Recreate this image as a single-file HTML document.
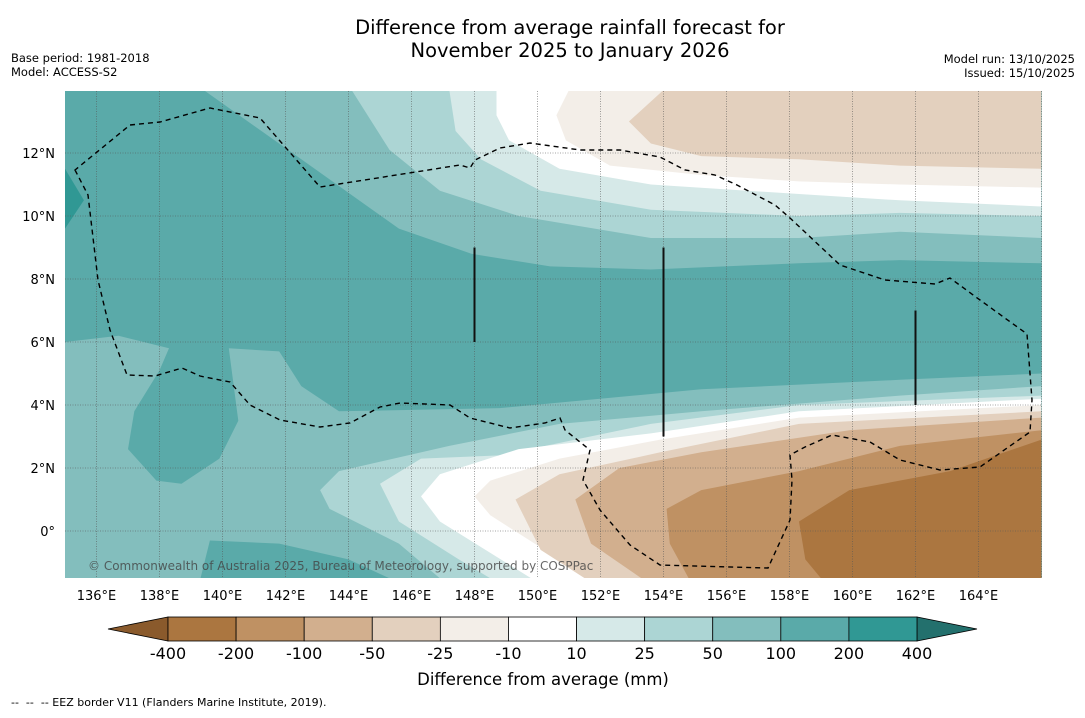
<!DOCTYPE html>
<html><head><meta charset="utf-8"><style>
body{margin:0;background:#fff;font-family:"Liberation Sans","DejaVu Sans",sans-serif;}
svg text{font-family:"DejaVu Sans","Liberation Sans",sans-serif;}
</style></head><body>
<svg id="chart" width="1085" height="713" viewBox="0 0 1085 713" xmlns="http://www.w3.org/2000/svg">
<rect width="1085" height="713" fill="#fff"/>
<text x="570" y="34" font-size="19.5" text-anchor="middle">Difference from average rainfall forecast for</text>
<text x="570" y="57" font-size="19.5" text-anchor="middle">November 2025 to January 2026</text>
<text x="11" y="62" font-size="11.5">Base period: 1981-2018</text>
<text x="11" y="76" font-size="11.5">Model: ACCESS-S2</text>
<text x="1075" y="63" font-size="11.5" text-anchor="end">Model run: 13/10/2025</text>
<text x="1075" y="77" font-size="11.5" text-anchor="end">Issued: 15/10/2025</text>
<defs><clipPath id="mapclip"><rect x="65" y="91" width="977" height="487"/></clipPath></defs>
<g id="map" clip-path="url(#mapclip)"></g>
<g id="axes"></g>
<g id="cbar"></g>
<text x="543" y="685" font-size="16.5" text-anchor="middle">Difference from average (mm)</text>
<text x="11" y="706" font-size="11" style="white-space:pre" xml:space="preserve">--  --  -- EEZ border V11 (Flanders Marine Institute, 2019).</text>
</svg>
<script>
const lonTicks=[136,138,140,142,144,146,148,150,152,154,156,158,160,162,164];
const latTicks=[0,2,4,6,8,10,12];
const cbarLabels=["-400","-200","-100","-50","-25","-10","10","25","50","100","200","400"];
const cbarColors=["#ab7640","#bf9163","#d2af8e","#e3d0be","#f3eee8","#ffffff","#d6e9e8","#acd5d4","#83bebd","#5aaaa9","#309894"];
const C={m400:"#ab7640",m200:"#bf9163",m100:"#d2af8e",m50:"#e3d0be",m25:"#f3eee8",w:"#ffffff",p10:"#d6e9e8",p25:"#acd5d4",p50:"#83bebd",p100:"#5aaaa9",p200:"#309894"};
const band100=[[135,14],[139.4,14],[142.5,11.8],[145.6,9.6],[147.9,8.8],[150.4,8.4],[153.6,8.3],[158.3,8.5],[161.5,8.6],[166,8.5],[166,5.0],[161.5,4.8],[155.2,4.5],[148.8,3.9],[143.7,3.8],[142.5,4.6],[141.8,5.7],[140.2,5.8],[140.5,3.5],[139.9,2.3],[138.7,1.5],[137.9,1.6],[137.0,2.6],[137.2,3.8],[138.0,5.1],[138.3,5.8],[136.7,6.2],[135,6.0]];
const blob100=[[139.3,-1.5],[139.6,-0.3],[141.8,-0.4],[144.0,-0.9],[145.3,-1.5]];
const blob200=[[135,11.5],[135.6,10.5],[135,9.6]];
const top25=[[144.1,14],[145.3,12.1],[146.9,10.8],[149.4,10.0],[153.6,9.3],[158.3,9.3],[161.5,9.5],[166,9.3],[166,14]];
const top10=[[147.2,14],[147.4,12.7],[148.2,11.8],[150.1,10.8],[153.6,10.2],[158.3,10.0],[161.5,10.1],[166,10.0],[166,14]];
const topW=[[148.7,14],[148.7,13.2],[149.1,12.4],[150.7,11.5],[153.6,11.0],[158.3,10.7],[161.5,10.5],[166,10.3],[166,14]];
const topM10=[[151.0,14],[150.6,13.2],[150.9,12.4],[152.3,11.6],[155.2,11.3],[158.3,11.1],[161.5,11.0],[166,10.9],[166,14]];
const topM25=[[154.0,14],[152.9,13.0],[153.6,12.3],[155.2,11.9],[158.3,11.8],[161.5,11.6],[166,11.5],[166,14]];
const bot25=[[166,4.6],[161.5,4.3],[155.2,3.8],[150.7,3.4],[147.2,2.7],[143.7,1.9],[143.1,1.3],[143.4,0.7],[145.6,-0.4],[146.9,-1.5],[166,-1.5]];
const bot10=[[166,4.3],[158.3,4.0],[153.6,3.4],[148.8,2.4],[146.3,2.3],[145.0,1.5],[145.6,0.3],[147.5,-0.9],[148.5,-1.5],[166,-1.5]];
const botW=[[166,4.2],[158.3,3.8],[153.6,3.1],[149.4,2.6],[146.9,1.8],[146.3,1.1],[146.9,0.3],[149.8,-1.5],[166,-1.5]];
const botM10=[[166,4.0],[158.3,3.6],[153.9,2.9],[150.7,2.3],[148.5,1.6],[148.0,1.1],[148.5,0.5],[150.7,-0.9],[151.9,-1.5],[166,-1.5]];
const botM25=[[166,3.8],[158.3,3.4],[153.9,2.5],[150.7,1.8],[149.3,1.0],[150.1,-0.6],[151.5,-1.5],[166,-1.5]];
const botM50=[[166,3.6],[159.9,3.2],[155.2,2.5],[152.6,2.0],[151.2,1.0],[151.7,-0.4],[153.3,-1.5],[166,-1.5]];
const botM100=[[166,3.2],[161.5,2.7],[158.3,1.9],[155.2,1.3],[154.1,0.7],[154.2,-0.4],[154.8,-1.5],[166,-1.5]];
const botM200=[[166,2.9],[163.1,1.9],[159.9,1.3],[158.3,0.3],[158.5,-0.9],[159.0,-1.5],[166,-1.5]];
const layers=[["band-100-200",band100,C.p100],["blob-100-200",blob100,C.p100],["blob-200-400",blob200,C.p200],
["top-25-50",top25,C.p25],["top-10-25",top10,C.p10],["top-white",topW,C.w],["top-m10",topM10,C.m25],["top-m25",topM25,C.m50],
["bottom-25-50",bot25,C.p25],["bottom-10-25",bot10,C.p10],["bottom-white",botW,C.w],["bottom-m10",botM10,C.m25],["bottom-m25",botM25,C.m50],["bottom-m50",botM50,C.m100],["bottom-m100",botM100,C.m200],["bottom-m200",botM200,C.m400]];
const markerLines=[[148,6,9],[154,3,9],[162,4,7]];
const X=lon=>65+(lon-135)*31.5;
const Y=lat=>531-lat*31.5;
const NS="http://www.w3.org/2000/svg";
function mk(tag,attrs,parent){const e=document.createElementNS(NS,tag);for(const k in attrs)e.setAttribute(k,attrs[k]);parent.appendChild(e);return e;}
const map=document.getElementById('map');
let bg=mk('rect',{x:65,y:91,width:977,height:487,fill:C.p50},map);


layers.forEach(([name,pts,col])=>{
 const p=mk('polygon',{points:pts.map(q=>X(q[0]).toFixed(1)+','+Y(q[1]).toFixed(1)).join(' '),fill:col},map);
 
 
});
lonTicks.concat([166]).forEach(l=>{const g=mk('line',{x1:X(l),x2:X(l),y1:91,y2:578,stroke:'#555',"stroke-width":0.8,"stroke-dasharray":"1,1.5","stroke-opacity":0.7},map);
 
 });
latTicks.forEach(l=>{const g=mk('line',{x1:65,x2:1042,y1:Y(l),y2:Y(l),stroke:'#555',"stroke-width":0.8,"stroke-dasharray":"1,1.5","stroke-opacity":0.7},map);
 
 });
const eez=mk('path',{d:"M75,170 L88,195 L98,280 L110,330 L127,375 L155,376 L182,368 L200,376 L230,382 L250,405 L280,420 L320,427 L350,423 L380,407 L400,403 L450,405 L470,418 L510,428 L545,423 L560,418 L565,430 L590,450 L583,480 L600,510 L630,545 L660,565 L768,568 L790,520 L792,480 L790,455 L805,447 L832,435 L870,442 L900,460 L940,470 L980,467 L1030,432 L1032,400 L1027,334 L980,300 L950,278 L935,284 L885,280 L840,265 L790,218 L775,205 L737,185 L715,175 L685,170 L660,157 L620,150 L580,150 L530,143 L500,148 L475,160 L470,168 L460,165 L320,187 L260,118 L210,108 L160,122 L130,125 Z",fill:"none",stroke:"#000","stroke-width":1.4,"stroke-dasharray":"5,4"},map);


markerLines.forEach(([lon,a,b])=>{const l=mk('line',{x1:X(lon),x2:X(lon),y1:Y(b),y2:Y(a),stroke:'#111',"stroke-width":2},map);
 
 });
const cr=mk('text',{x:88,y:570,"font-size":12,fill:"#444","fill-opacity":0.8},map);cr.textContent="© Commonwealth of Australia 2025, Bureau of Meteorology, supported by COSPPac";


const axes=document.getElementById('axes');
lonTicks.forEach(l=>{const t=mk('text',{x:X(l),y:600,"font-size":13,"text-anchor":"middle"},axes);t.textContent=l+'°E';
 
 });
latTicks.forEach(l=>{const t=mk('text',{x:55,y:Y(l)+5,"font-size":13,"text-anchor":"end"},axes);t.textContent=l===0?'0°':l+'°N';
 
 });
const cb=document.getElementById('cbar');
const cx0=168,cw=(917-168)/cbarColors.length,cy=617,ch=24;
const la=mk('polygon',{points:`108,${cy+ch/2} ${cx0},${cy} ${cx0},${cy+ch}`,fill:"#8a5a2c",stroke:"#000","stroke-width":0.8},cb);


const ra=mk('polygon',{points:`977,${cy+ch/2} 917,${cy} 917,${cy+ch}`,fill:"#23706d",stroke:"#000","stroke-width":0.8},cb);


cbarColors.forEach((c,i)=>{const r=mk('rect',{x:cx0+i*cw,y:cy,width:cw,height:ch,fill:c,stroke:"#000","stroke-width":0.8},cb);
 
 });
cbarLabels.forEach((s,i)=>{const t=mk('text',{x:cx0+i*cw,y:659,"font-size":16,"text-anchor":"middle"},cb);t.textContent=s;
 
 });
</script>
</body></html>
